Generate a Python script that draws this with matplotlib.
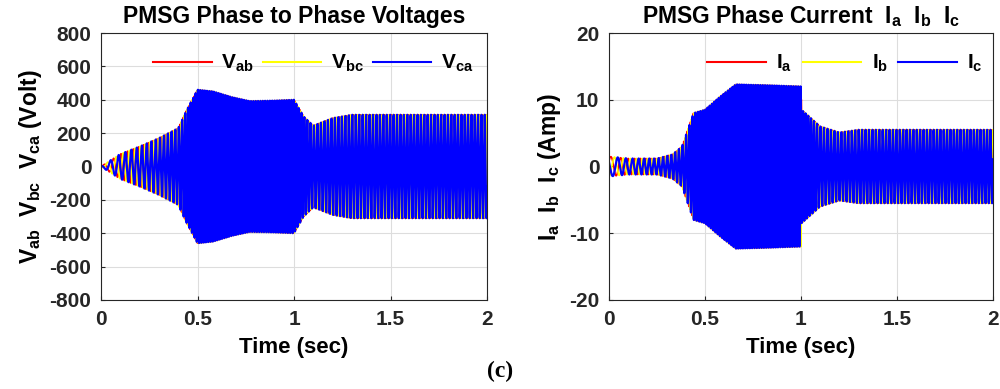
import numpy as np
import matplotlib.pyplot as plt

plt.rcParams['font.family'] = ['Liberation Sans', 'DejaVu Sans']
plt.rcParams['font.weight'] = 'bold'
plt.rcParams['axes.titleweight'] = 'bold'
plt.rcParams['axes.labelweight'] = 'bold'
plt.rcParams['axes.unicode_minus'] = False
plt.rcParams['mathtext.fontset'] = 'custom'
plt.rcParams['mathtext.rm'] = 'Liberation Sans:bold'
plt.rcParams['mathtext.it'] = 'Liberation Sans:bold'
plt.rcParams['mathtext.bf'] = 'Liberation Sans:bold'

# envelope key points
v_env_t = [0.0, 0.1, 0.2, 0.3, 0.4, 0.44, 0.5, 0.58, 0.68, 0.77, 0.9, 1.0, 1.05, 1.1, 1.2, 1.3, 2.0]
v_env = [0, 75, 120, 170, 230, 330, 460, 450, 415, 392, 395, 400, 300, 245, 290, 310, 310]

i_env_t = [0.0, 0.1, 0.25, 0.33, 0.38, 0.44, 0.5, 0.58, 0.66, 0.8, 1.0, 1.003, 1.1, 1.2, 1.3, 2.0]
i_env = [1.5, 1.2, 1.2, 1.8, 3.0, 8.0, 8.5, 10.5, 12.3, 12.2, 12.0, 8.5, 6.0, 5.1, 5.5, 5.5]

# electrical frequency (Hz) key points
f_t = [0.0, 0.1, 0.2, 0.4, 0.5, 1.0, 1.1, 2.0]
f_hz = [15, 28, 38, 55, 85, 80, 55, 58]

v_labels = [r'$\mathrm{V_{ab}}$', r'$\mathrm{V_{bc}}$', r'$\mathrm{V_{ca}}$']
i_labels = [r'$\mathrm{I_a}$', r'$\mathrm{I_b}$', r'$\mathrm{I_c}$']
colors = ['red', 'yellow', 'blue']
x_ticks = [0, 0.5, 1, 1.5, 2]
x_ticklabels = ['0', '0.5', '1', '1.5', '2']

t = np.linspace(0, 2, 40000)
freq = np.interp(t, f_t, f_hz)
phase = 2 * np.pi * np.cumsum(freq) * (t[1] - t[0])
va = np.interp(t, v_env_t, v_env)
ia = np.interp(t, i_env_t, i_env)

fig = plt.figure(figsize=(10, 3.89), dpi=100)
ax1 = fig.add_axes([0.101, 0.229, 0.386, 0.686])
ax2 = fig.add_axes([0.609, 0.229, 0.384, 0.686])

for k in range(3):
    sh = -2 * np.pi * k / 3
    lw = 1.6 if k == 2 else 1.2
    ax1.plot(t, va * np.sin(phase + sh), color=colors[k], lw=lw, label=v_labels[k])
    ax2.plot(t, ia * np.sin(phase + sh + 0.6), color=colors[k], lw=lw, label=i_labels[k])

ax1.set_ylim(-800, 800)
ax1.set_yticks(range(-800, 801, 200))
ax1.set_title('PMSG Phase to Phase Voltages', fontsize=16.5, pad=7)
ax1.set_ylabel(r'$\mathrm{V_{ab}}$  $\mathrm{V_{bc}}$  $\mathrm{V_{ca}}$ (Volt)', fontsize=16.5, labelpad=4)

ax2.set_ylim(-20, 20)
ax2.set_yticks([-20, -10, 0, 10, 20])
ax2.set_title(r'PMSG Phase Current  $\mathrm{I_a}$  $\mathrm{I_b}$  $\mathrm{I_c}$', fontsize=16.5, pad=7)
ax2.set_ylabel(r'$\mathrm{I_a}$  $\mathrm{I_b}$  $\mathrm{I_c}$ (Amp)', fontsize=16.5, labelpad=4)

for ax in (ax1, ax2):
    ax.set_xlim(0, 2)
    ax.set_xticks(x_ticks)
    ax.set_xticklabels(x_ticklabels)
    ax.set_xlabel('Time (sec)', fontsize=16, labelpad=6)
    ax.grid(True, color='#dddddd', lw=0.8)
    ax.set_axisbelow(True)
    ax.tick_params(direction='in', labelsize=15, length=3, colors='#262626', pad=7)
    for lab in ax.get_xticklabels() + ax.get_yticklabels():
        lab.set_fontweight('bold')
    for s in ax.spines.values():
        s.set_color('#262626')
        s.set_linewidth(0.8)

leg1 = ax1.legend(loc='upper center', bbox_to_anchor=(0.55, 0.995), ncol=3, frameon=False,
                  fontsize=15, handlelength=2.8, handletextpad=0.45, columnspacing=0.45)
leg2 = ax2.legend(loc='upper center', bbox_to_anchor=(0.615, 0.995), ncol=3, frameon=False,
                  fontsize=15, handlelength=2.8, handletextpad=0.5, columnspacing=0.5)
for leg in (leg1, leg2):
    for line in leg.get_lines():
        line.set_linewidth(1.5)

fig.text(0.5, 0.044, '(c)', ha='center', va='center', fontsize=17, fontweight='bold',
         family=['Liberation Serif', 'DejaVu Serif'])

fig.savefig('out.png', dpi=100)
